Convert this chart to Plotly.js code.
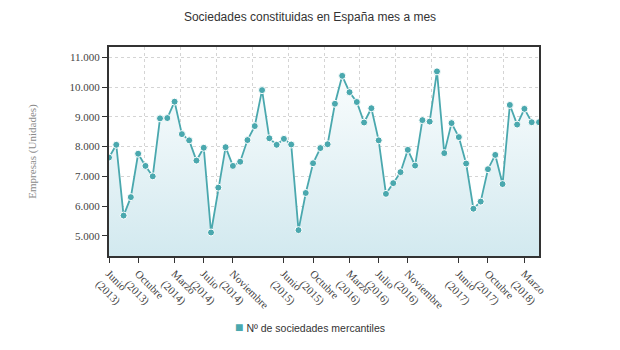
<!DOCTYPE html>
<html>
<head>
<meta charset="utf-8">
<script src="https://cdn.plot.ly/plotly-3.0.1.min.js"></script>
<style>
  html, body { margin: 0; padding: 0; background: #fff; }
  #chart { width: 620px; height: 350px; }
</style>
</head>
<body>
<div id="chart"></div>
<script>
// Monthly series, June 2013 to May 2018
const months = [
  "2013-06","2013-07","2013-08","2013-09","2013-10","2013-11","2013-12",
  "2014-01","2014-02","2014-03","2014-04","2014-05","2014-06","2014-07","2014-08","2014-09","2014-10","2014-11","2014-12",
  "2015-01","2015-02","2015-03","2015-04","2015-05","2015-06","2015-07","2015-08","2015-09","2015-10","2015-11","2015-12",
  "2016-01","2016-02","2016-03","2016-04","2016-05","2016-06","2016-07","2016-08","2016-09","2016-10","2016-11","2016-12",
  "2017-01","2017-02","2017-03","2017-04","2017-05","2017-06","2017-07","2017-08","2017-09","2017-10","2017-11","2017-12",
  "2018-01","2018-02","2018-03","2018-04","2018-05"
];

const sociedades = [
  7630, 8060, 5680, 6300, 7760, 7350, 7000,
  8950, 8960, 9510, 8420, 8210, 7530, 7960, 5110, 6620, 7980, 7350, 7490,
  8220, 8690, 9900, 8280, 8060, 8260, 8070, 5190, 6440, 7440, 7950, 8080,
  9440, 10380, 9830, 9500, 8810, 9290, 8210, 6410, 6770, 7140, 7890, 7360,
  8890, 8840, 10530, 7780, 8790, 8320, 7430, 5910, 6150, 7240, 7720, 6740,
  9400, 8740, 9270, 8820, 8820
];

// Labelled months on the horizontal axis
const tickMonths = ["2013-06","2013-10","2014-03","2014-07","2014-11","2015-06","2015-10",
                    "2016-03","2016-07","2016-11","2017-06","2017-10","2018-03"];
const tickLabels = ["Junio<br>(2013)","Octubre<br>(2013)","Marzo<br>(2014)","Julio<br>(2014)",
                    "Noviembre<br>(2014)","Junio<br>(2015)","Octubre<br>(2015)","Marzo<br>(2016)",
                    "Julio<br>(2016)","Noviembre<br>(2016)","Junio<br>(2017)","Octubre<br>(2017)",
                    "Marzo<br>(2018)"];

const seriesName = "Nº de sociedades mercantiles";
const teal = "#4aa8ae";
const serif = "Liberation Serif, Times New Roman, serif";
const sans = "Liberation Sans, Arial, sans-serif";

const traces = [
  {
    x: months,
    y: sociedades,
    type: "scatter",
    mode: "lines+markers",
    name: seriesName,
    showlegend: false,
    line: { color: teal, width: 1.8 },
    marker: { color: teal, size: 7, line: { color: "#ffffff", width: 1 } },
    fill: "tozeroy",
    fillgradient: {
      type: "vertical",
      start: 4300,
      stop: 11300,
      colorscale: [[0, "#d2e9ef"], [1, "#ffffff"]]
    },
    hoverinfo: "x+y"
  },
  {
    // carries the 12 evenly spaced vertical grid divisions
    x: [null],
    y: [null],
    xaxis: "x2",
    type: "scatter",
    mode: "markers",
    showlegend: false,
    hoverinfo: "skip"
  }
];

const layout = {
  width: 620,
  height: 350,
  margin: { l: 109, r: 81, t: 47, b: 94 },
  paper_bgcolor: "#ffffff",
  plot_bgcolor: "#ffffff",
  separators: ",.",
  font: { family: sans, color: "#333333", size: 11 },
  showlegend: false,
  title: {
    text: "Sociedades constituidas en España mes a mes",
    font: { family: sans, size: 12, color: "#333333" },
    x: 0.5,
    xref: "container",
    y: 0.952,
    yref: "container",
    yanchor: "middle"
  },
  xaxis: {
    type: "category",
    range: [0, months.length - 1],
    tickmode: "array",
    tickvals: tickMonths,
    ticktext: tickLabels,
    tickangle: 45,
    tickfont: { family: serif, size: 11, color: "#444444" },
    ticks: "outside",
    ticklen: 5,
    tickcolor: "#333333",
    showgrid: false,
    showline: true,
    linecolor: "#333333",
    linewidth: 2,
    mirror: true,
    zeroline: false
  },
  xaxis2: {
    overlaying: "x",
    range: [0, 12],
    tickmode: "linear",
    tick0: 0,
    dtick: 1,
    showticklabels: false,
    ticks: "",
    showgrid: true,
    gridcolor: "#d4d4d4",
    griddash: "dot",
    gridwidth: 1,
    showline: false,
    zeroline: false
  },
  yaxis: {
    range: [4320, 11350],
    tickmode: "linear",
    tick0: 5000,
    dtick: 1000,
    tickformat: ",d",
    tickfont: { family: serif, size: 11, color: "#444444" },
    ticks: "outside",
    ticklen: 5,
    tickcolor: "#333333",
    showgrid: true,
    gridcolor: "#d4d4d4",
    griddash: "dot",
    gridwidth: 1,
    showline: true,
    linecolor: "#333333",
    linewidth: 2,
    mirror: true,
    zeroline: false,
    title: {
      text: "Empresas (Unidades)",
      font: { family: serif, size: 11, color: "#8a8a8a" },
      standoff: 31
    }
  },
  // series key below the plot
  annotations: [
    {
      text: '<span style="color:' + teal + ';font-size:14px">■</span> ' + seriesName,
      xref: "paper",
      yref: "paper",
      x: 0.467,
      y: -0.34,
      xanchor: "center",
      yanchor: "middle",
      showarrow: false,
      font: { family: sans, size: 10.5, color: "#333333" }
    }
  ]
};

Plotly.newPlot("chart", traces, layout, { displayModeBar: false, staticPlot: true });
</script>
</body>
</html>
